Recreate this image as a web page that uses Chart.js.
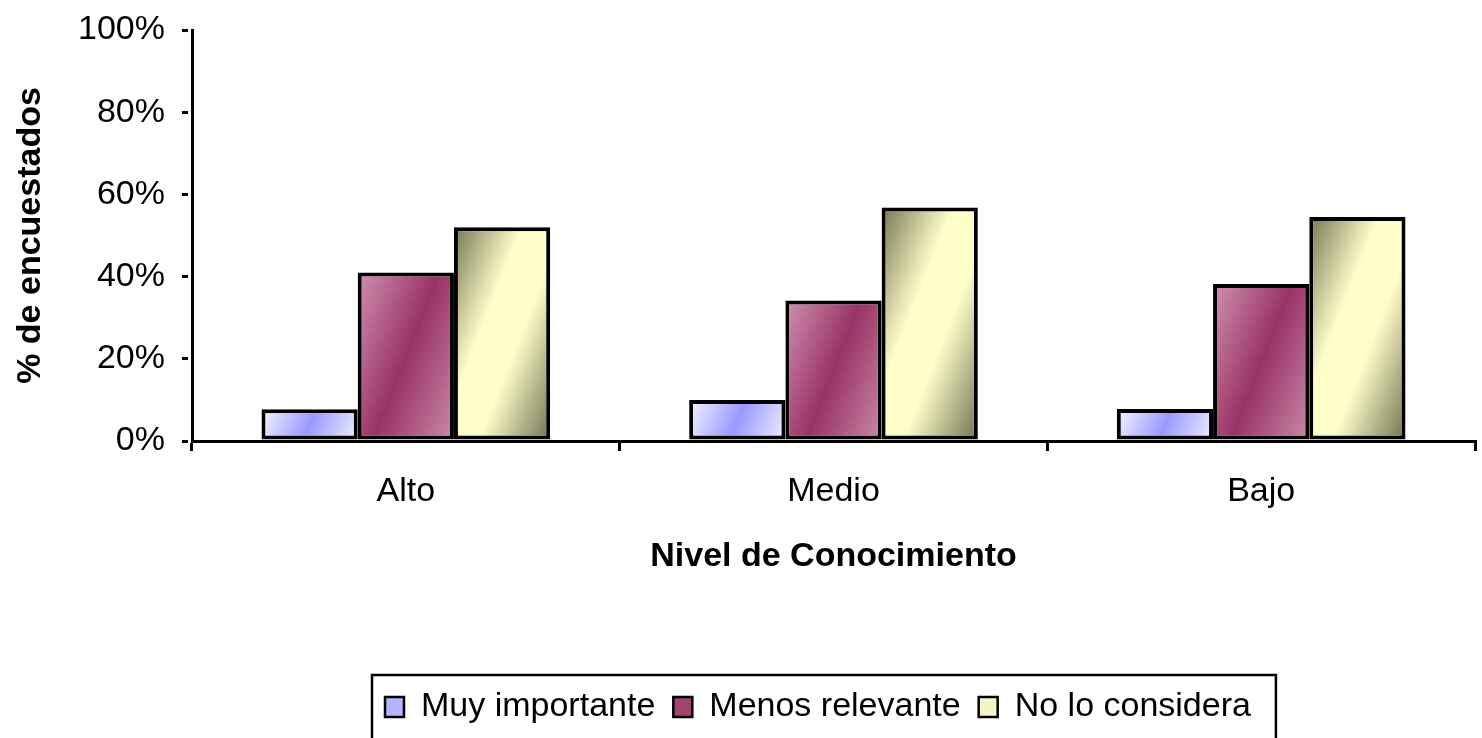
<!DOCTYPE html>
<html>
<head>
<meta charset="utf-8">
<script src="https://cdn.jsdelivr.net/npm/chart.js@4.4.1/dist/chart.umd.min.js"></script>
<style>
  html, body { margin: 0; padding: 0; background: #fff; overflow: hidden; }
  #wrap { width: 1482px; height: 738px; position: relative; }
</style>
</head>
<body>
<div id="wrap"><canvas id="chart"></canvas></div>
<script>
// data
const categories = ['Alto', 'Medio', 'Bajo'];
const seriesNames = ['Muy importante', 'Menos relevante', 'No lo considera'];
const muyImportante = [7.7, 10.0, 7.8];
const menosRelevante = [41.0, 34.2, 38.2];
const noLoConsidera = [52.0, 56.8, 54.5];
const yTicks = [0, 20, 40, 60, 80, 100];

const FONT = "'Liberation Sans', Arial, sans-serif";
const GROUP = 0.675; // share of a category taken by the three bars

// edge / centre / edge colours of the shaded bars
const shades = [
  ['#f6f6ff', '#9999ff', '#f0f0ff'],
  ['#cf92b1', '#993366', '#c98aa9'],
  ['#757552', '#ffffcc', '#707050']
];
const legendFill = ['#b4b4ff', '#a04470', '#f4f4c8'];

// diagonal gradient for one bar, worked out from the scales
function barFill(c) {
  const s = shades[c.datasetIndex];
  if (c.type !== 'data') return s[1];
  const chart = c.chart, xs = chart.scales.x, ys = chart.scales.y;
  if (!xs || !ys || !chart.chartArea) return s[1];
  const gw = xs.width / categories.length * GROUP;
  const bw = gw / 3;
  const left = xs.getPixelForValue(c.dataIndex) - gw / 2 + c.datasetIndex * bw;
  const top = ys.getPixelForValue(c.raw), bot = ys.getPixelForValue(0);
  const cx = left + bw / 2, cy = (top + bot) / 2;
  const dx = 0.93, dy = 0.37;
  const L = Math.abs(bw / 2 * dx) + Math.abs((bot - top) / 2 * dy) || 1;
  const g = chart.ctx.createLinearGradient(cx - L * dx, cy - L * dy, cx + L * dx, cy + L * dy);
  if (c.datasetIndex === 2) {
    g.addColorStop(0, s[0]);
    g.addColorStop(0.38, s[1]);
    g.addColorStop(0.6, s[1]);
    g.addColorStop(1, s[2]);
  } else {
    g.addColorStop(0, s[0]);
    g.addColorStop(0.5, s[1]);
    g.addColorStop(1, s[2]);
  }
  return g;
}

// legend sits a bit right of centre in the original, inside a frame
const LEGEND_START = 385;
const legendFrame = {
  id: 'legendFrame',
  afterUpdate(chart) {
    const lg = chart.legend;
    if (!lg || !lg.legendHitBoxes || !lg.legendHitBoxes.length) return;
    const d = LEGEND_START - lg.legendHitBoxes[0].left;
    lg.left += d;
    lg.right += d;
    lg.legendHitBoxes.forEach(h => { h.left += d; });
  },
  afterDraw(chart) {
    const lg = chart.legend;
    if (!lg || !lg.legendHitBoxes || !lg.legendHitBoxes.length) return;
    const boxes = lg.legendHitBoxes;
    const first = boxes[0], last = boxes[boxes.length - 1];
    const midY = first.top + first.height / 2;
    const ctx = chart.ctx;
    ctx.save();
    ctx.strokeStyle = '#000';
    ctx.lineWidth = 2.5;
    const x0 = first.left - 13, x1 = last.left + last.width + 25;
    ctx.strokeRect(x0, midY - 32, x1 - x0, 80);
    ctx.restore();
  }
};

const makeSet = (i, values) => ({
  label: seriesNames[i],
  data: values,
  backgroundColor: barFill,
  borderColor: '#000',
  borderWidth: 4,
  borderSkipped: false,
  categoryPercentage: GROUP,
  barPercentage: 1
});

new Chart(document.getElementById('chart'), {
  type: 'bar',
  data: {
    labels: categories,
    datasets: [
      makeSet(0, muyImportante),
      makeSet(1, menosRelevante),
      makeSet(2, noLoConsidera)
    ]
  },
  plugins: [legendFrame],
  options: {
    responsive: true,
    maintainAspectRatio: false,
    animation: false,
    layout: { padding: { top: 30, right: 7, bottom: 4, left: 0 } },
    plugins: {
      tooltip: { enabled: false },
      legend: {
        position: 'bottom',
        labels: {
          color: '#000',
          font: { family: FONT, size: 34 },
          boxWidth: 19,
          boxHeight: 20,
          padding: 18,
          generateLabels: (chart) => chart.data.datasets.map((ds, i) => ({
            text: ds.label,
            fillStyle: legendFill[i],
            strokeStyle: '#000',
            lineWidth: 2.5,
            datasetIndex: i,
            fontColor: '#000'
          }))
        }
      }
    },
    scales: {
      x: {
        grid: { display: true, drawOnChartArea: false, offset: true, color: '#000', lineWidth: 3, tickLength: 10 },
        border: { color: '#000', width: 3 },
        ticks: { color: '#000', font: { family: FONT, size: 34 }, padding: 20 },
        title: { display: true, text: 'Nivel de Conocimiento', color: '#000',
                 font: { family: FONT, size: 34, weight: 'bold' }, padding: { top: 10, bottom: 95 } },
        afterFit: (s) => { s.height = 231; }
      },
      y: {
        min: 0,
        max: 100,
        afterBuildTicks: (s) => { s.ticks = yTicks.map(v => ({ value: v })); },
        grid: { display: true, drawOnChartArea: false, color: '#000', lineWidth: 3, tickLength: 10, tickBorderDash: [6, 20] },
        border: { color: '#000', width: 3 },
        ticks: { color: '#000', font: { family: FONT, size: 34 }, padding: 17, callback: (v) => v + '%' },
        title: { display: true, text: '% de encuestados', color: '#000',
                 font: { family: FONT, size: 34, weight: 'bold' }, padding: { top: 10, bottom: 0 } },
        afterFit: (s) => { s.width = 192; s.paddingTop = 0; s.paddingBottom = 0; }
      }
    }
  }
});
</script>
</body>
</html>
